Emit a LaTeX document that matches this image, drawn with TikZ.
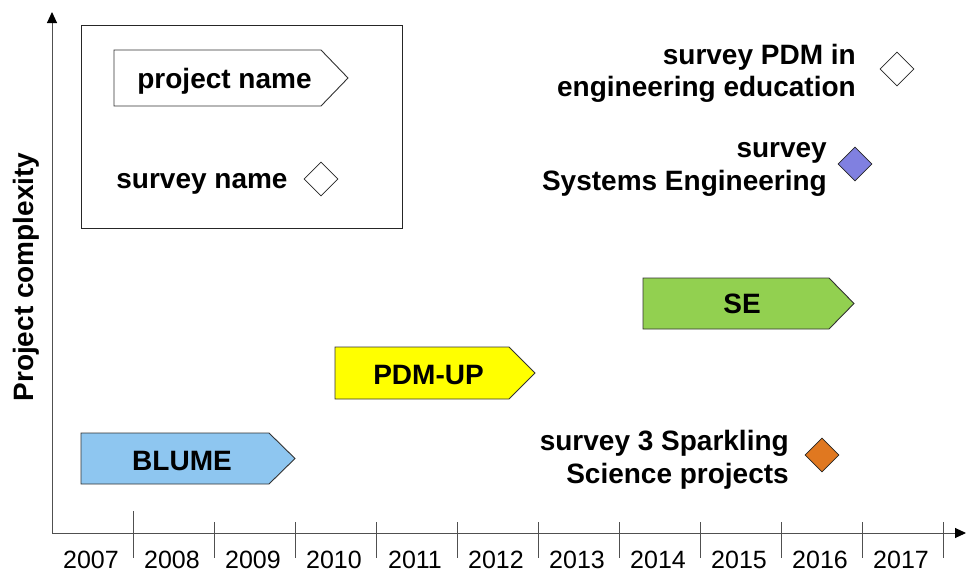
\documentclass[tikz,border=0pt]{standalone}
\usepackage{fontspec}
\setmainfont{Liberation Sans}
\usetikzlibrary{arrows.meta,shapes.geometric}

\definecolor{blumeblue}{RGB}{142,198,240}
\definecolor{pdmyellow}{RGB}{255,255,0}
\definecolor{segreen}{RGB}{146,208,80}
\definecolor{sepurple}{RGB}{128,128,224}
\definecolor{sparkorange}{RGB}{224,120,32}
\definecolor{axisgray}{RGB}{80,80,80}

\tikzset{
  axisline/.style={draw=axisgray, line width=1pt,
    -{Triangle[length=11pt,width=10pt,color=black]}},
  tickline/.style={draw=axisgray, line width=1pt},
  projshape/.style={draw=black!80, line width=0.9pt, line join=miter},
  surveymark/.style={diamond, draw=black!85, line width=0.8pt, inner sep=0pt,
    minimum width=34pt, minimum height=34pt},
  boldlabel/.style={font=\fontsize{28}{33}\selectfont\bfseries, inner sep=0pt},
  yearlabel/.style={font=\fontsize{25}{30}\selectfont, inner sep=0pt, anchor=base},
}

\begin{document}
\begin{tikzpicture}[x={(1pt,0)}, y={(0,-1pt)}]
\useasboundingbox (0,0) rectangle (966,573);

% axes
\coordinate (origin) at (52,533);
\coordinate (ytop) at (52,12);
\coordinate (xend) at (966,533);
\draw[axisline] (origin) -- (ytop);
\draw[axisline] (origin) -- (xend);

% year ticks and labels
\draw[tickline] (133,511) -- (133,558);
\foreach \k in {1,...,10}{
  \draw[tickline] ({133+81*\k},522) -- ({133+81*\k},558);
}
\foreach \k/\yr in {0/2007,1/2008,2/2009,3/2010,4/2011,5/2012,6/2013,7/2014,8/2015,9/2016,10/2017}{
  \node[yearlabel] (year\yr) at ({91+81*\k},568) {\yr};
}

% vertical axis title
\node[boldlabel, rotate=90, anchor=base] (ytitle) at (33,277) {Project complexity};

% legend
\draw[line width=1pt, draw=black!85] (81,25) rectangle (402,228);
\draw[projshape, fill=white] (114,50) -- (321,50) -- (348,78) -- (321,106) -- (114,106) -- cycle;
\node[boldlabel, anchor=base] (legproj) at (224.5,88) {project name};
\node[boldlabel, anchor=base] (legsurv) at (202,188) {survey name};
\node[surveymark, fill=white] (legdiamond) at (321,179) {};

% projects
\draw[projshape, fill=blumeblue] (81,433) -- (269,433) -- (295,458.5) -- (269,484) -- (81,484) -- cycle;
\node[boldlabel, anchor=base] (blume) at (182,470) {BLUME};

\draw[projshape, fill=pdmyellow] (335,347) -- (509,347) -- (535,373) -- (509,399) -- (335,399) -- cycle;
\node[boldlabel, anchor=base] (pdmup) at (428.5,384) {PDM-UP};

\draw[projshape, fill=segreen] (643,278) -- (829,278) -- (854,303.5) -- (829,329) -- (643,329) -- cycle;
\node[boldlabel, anchor=base] (se) at (742,313) {SE};

% surveys
\node[boldlabel, anchor=base east] (pdmsurvA) at (856,64) {survey PDM in};
\node[boldlabel, anchor=base east] (pdmsurvB) at (856,96) {engineering education};
\node[surveymark, fill=white] (pdmdiamond) at (897,69) {};

\node[boldlabel, anchor=base east] (sesurvA) at (827,157) {survey};
\node[boldlabel, anchor=base east] (sesurvB) at (827,190) {Systems Engineering};
\node[surveymark, fill=sepurple] (sediamond) at (855,164) {};

\node[boldlabel, anchor=base east] (sparkA) at (789,450) {survey 3 Sparkling};
\node[boldlabel, anchor=base east] (sparkB) at (789,483) {Science projects};
\node[surveymark, fill=sparkorange] (sparkdiamond) at (822,455) {};
\end{tikzpicture}
\end{document}
